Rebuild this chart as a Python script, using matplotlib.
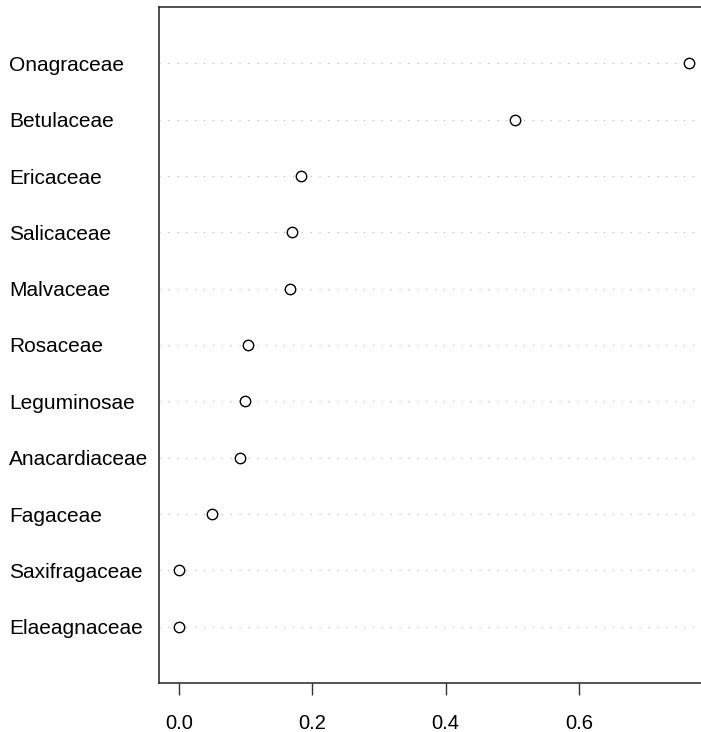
import numpy as np
import matplotlib.pyplot as plt

families = ['Elaeagnaceae', 'Saxifragaceae', 'Fagaceae', 'Anacardiaceae', 'Leguminosae',
            'Rosaceae', 'Malvaceae', 'Salicaceae', 'Ericaceae', 'Betulaceae', 'Onagraceae']
values = [0.0, 0.0, 0.0495, 0.0915, 0.099, 0.1035, 0.166, 0.170, 0.183, 0.504, 0.765]

plt.rcParams['font.family'] = ['Liberation Sans', 'DejaVu Sans']

fig = plt.figure(figsize=(7.01, 7.32), dpi=100)
ax = fig.add_axes([158.5 / 701, 1 - 683 / 732, (709.4 - 158.5) / 701, (683 - 7) / 732])

ypos = np.arange(1, len(families) + 1)
for y in ypos:
    ax.axhline(y, color='#b5b5b5', linestyle=(0, (1, 7)), linewidth=0.8, zorder=1)
ax.plot(values, ypos, 'o', mfc='white', mec='black', ms=7.5, mew=1.0, linestyle='none', zorder=3)

ax.set_xlim(-0.0306, 0.7956)
ax.set_ylim(0, 12)
ax.set_xticks([0.0, 0.2, 0.4, 0.6])
ax.set_xticklabels(['0.0', '0.2', '0.4', '0.6'], fontsize=14.5)
ax.tick_params(axis='x', length=8.5, width=1, pad=14, color='#333333')
ax.set_yticks(ypos)
ax.set_yticklabels(families, fontsize=15, ha='left')
ax.tick_params(axis='y', length=0, pad=(158.5 - 9) / 100 * 72)
for s in ax.spines.values():
    s.set_linewidth(1.1)
    s.set_color('#222222')

fig.savefig('out.png', dpi=100)
